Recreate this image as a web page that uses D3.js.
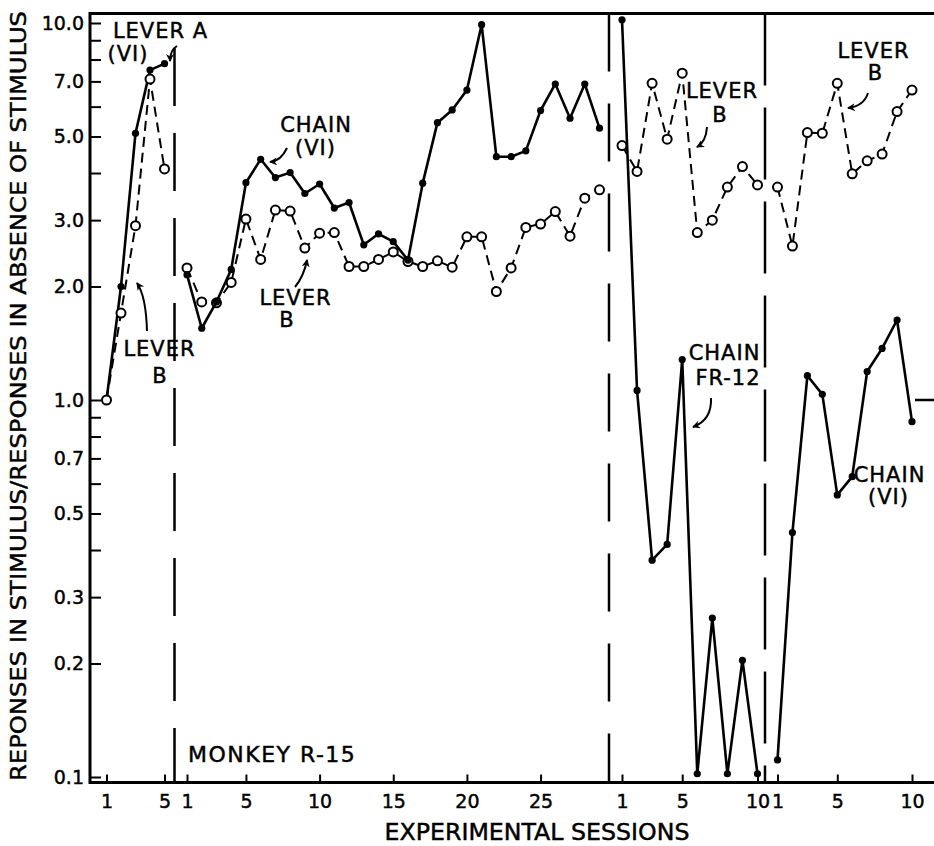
<!DOCTYPE html>
<html lang="en">
<head>
  <meta charset="UTF-8">
  <title>Monkey R-15</title>
  <script src="https://d3js.org/d3.v7.min.js"></script>
  <style>
    body { margin: 0; background: #fff; }
    text { font-family: "DejaVu Sans", sans-serif; fill: #000; stroke: #000; stroke-width: 0.45px; }
  </style>
</head>
<body>
  <div id="chart"></div>
  <script>
    // ratios, one value per session
    // phase 1 (sessions 1-5)
    const leverA1 = [1.0, 2.0, 5.1, 7.5, 7.8];
    const leverB1 = [1.0, 1.7, 2.9, 7.1, 4.1];
    // phase 2 (sessions 1-29)
    const chainVI2 = [2.15, 1.55, 1.82, 2.22, 3.77, 4.35, 3.89, 4.01, 3.53, 3.74,
                      3.23, 3.34, 2.58, 2.76, 2.63, 2.35, 3.76, 5.44, 5.88, 6.64,
                      9.9, 4.42, 4.42, 4.58, 5.86, 6.89, 5.59, 6.89, 5.26];
    const leverB2 = [2.24, 1.82, 1.81, 2.05, 3.02, 2.36, 3.19, 3.17, 2.53, 2.77,
                     2.78, 2.26, 2.26, 2.36, 2.47, 2.33, 2.26, 2.34, 2.25, 2.71,
                     2.71, 1.94, 2.24, 2.87, 2.93, 3.16, 2.72, 3.43, 3.61];
    // phase 3 (sessions 1-10)
    const chainFR3 = [10.2, 1.06, 0.376, 0.414, 1.28, 0.102, 0.264, 0.102, 0.204, 0.102];
    const leverB3 = [4.73, 4.04, 6.92, 4.92, 7.36, 2.78, 3.0, 3.67, 4.16, 3.72];
    // phase 4 (sessions 1-10)
    const chainVI4 = [0.111, 0.445, 1.16, 1.035, 0.56, 0.626, 1.19, 1.37, 1.63, 0.876];
    const leverB4 = [3.67, 2.56, 5.12, 5.10, 6.92, 3.98, 4.31, 4.49, 5.82, 6.64];

    const yMajor = [0.1, 0.2, 0.3, 0.5, 0.7, 1, 2, 3, 5, 7, 10];
    const yMinor = [0.4, 0.6, 0.8, 0.9, 4, 6, 8, 9];
    const ticks1 = [1, 5], ticks2 = [1, 5, 10, 15, 20, 25], ticks3 = [1, 5, 10], ticks4 = [1, 5, 10];

    const width = 934, height = 846;
    const frameLeft = 90, frameTop = 13.5, frameBottom = 782.5;

    const svg = d3.select("#chart")
      .append("svg")
      .attr("width", width)
      .attr("height", height);

    const y = d3.scaleLog().domain([0.1, 10]).range([777, 23]);

    // one x scale per experimental phase
    const x1 = d3.scaleLinear().domain([1, 5]).range([106.5, 164.5]);
    const x2 = d3.scaleLinear().domain([1, 29]).range([187, 599.5]);
    const x3 = d3.scaleLinear().domain([1, 10]).range([622, 757.5]);
    const x4 = d3.scaleLinear().domain([1, 10]).range([777.5, 912]);

    // arrow head
    svg.append("defs").append("marker")
      .attr("id", "head")
      .attr("markerUnits", "userSpaceOnUse")
      .attr("markerWidth", 10).attr("markerHeight", 10)
      .attr("refX", 7).attr("refY", 4)
      .attr("orient", "auto")
      .append("path")
      .attr("d", "M0,0 L8,4 L0,8 L2.5,4 Z")
      .attr("fill", "#000");

    // frame
    svg.append("line")
      .attr("x1", frameLeft).attr("x2", width).attr("y1", frameTop).attr("y2", frameTop)
      .attr("stroke", "#000").attr("stroke-width", 3);
    svg.append("line")
      .attr("x1", frameLeft).attr("x2", frameLeft).attr("y1", frameTop - 1.5).attr("y2", frameBottom + 1.5)
      .attr("stroke", "#000").attr("stroke-width", 3);
    svg.append("line")
      .attr("x1", frameLeft).attr("x2", width).attr("y1", frameBottom).attr("y2", frameBottom)
      .attr("stroke", "#000").attr("stroke-width", 3);

    // y axis, ticks pointing in
    const yAxis = d3.axisLeft(y)
      .tickValues(yMajor.concat(yMinor))
      .tickSizeInner(-11)
      .tickSizeOuter(0)
      .tickPadding(6)
      .tickFormat(d => yMajor.includes(d) ? d3.format(".1f")(d) : "");

    const gy = svg.append("g")
      .attr("transform", `translate(${frameLeft},0)`)
      .call(yAxis);
    gy.select(".domain").remove();
    gy.selectAll("line").attr("stroke-width", 2);
    gy.selectAll("text")
      .attr("font-family", "DejaVu Sans")
      .attr("font-size", 19);

    // right-hand tick at 1.0
    svg.append("line")
      .attr("x1", 915).attr("x2", width).attr("y1", y(1)).attr("y2", y(1))
      .attr("stroke", "#000").attr("stroke-width", 2.5);

    // x axes, one per phase
    [[x1, ticks1], [x2, ticks2], [x3, ticks3], [x4, ticks4]].forEach(([sc, tv]) => {
      const g = svg.append("g")
        .attr("transform", `translate(0,${frameBottom})`)
        .call(d3.axisBottom(sc)
          .tickValues(tv)
          .tickFormat(d3.format("d"))
          .tickSizeInner(-8)
          .tickSizeOuter(0)
          .tickPadding(12));
      g.select(".domain").remove();
      g.selectAll("line").attr("stroke-width", 2);
      g.selectAll("text")
        .attr("font-family", "DejaVu Sans")
        .attr("font-size", 19);
    });

    // phase dividers (the first one starts below the LEVER A label)
    [[174.5, 48, "58,27"], [609, frameTop, "58,32"], [765, frameTop, "72,22"]].forEach(([xd, y0, dash]) => {
      svg.append("line")
        .attr("x1", xd).attr("x2", xd)
        .attr("y1", y0).attr("y2", frameBottom)
        .attr("stroke", "#000")
        .attr("stroke-width", 2.5)
        .attr("stroke-dasharray", dash);
    });

    // series
    function drawSeries(sc, values, open) {
      const pts = values.map((v, i) => [sc(i + 1), y(v)]);
      svg.append("path")
        .attr("d", d3.line()(pts))
        .attr("fill", "none")
        .attr("stroke", "#000")
        .attr("stroke-width", open ? 2 : 2.6)
        .attr("stroke-dasharray", open ? "10,6" : null)
        .attr("stroke-linejoin", "round");
      svg.append("g").selectAll("circle")
        .data(pts)
        .join("circle")
        .attr("cx", d => d[0])
        .attr("cy", d => d[1])
        .attr("r", open ? 4.5 : 3.6)
        .attr("fill", open ? "#fff" : "#000")
        .attr("stroke", "#000")
        .attr("stroke-width", open ? 2 : 0);
    }

    drawSeries(x1, leverA1, false);
    drawSeries(x1, leverB1, true);
    drawSeries(x2, leverB2, true);
    drawSeries(x2, chainVI2, false);
    drawSeries(x3, leverB3, true);
    drawSeries(x3, chainFR3, false);
    drawSeries(x4, leverB4, true);
    drawSeries(x4, chainVI4, false);

    // annotations
    const labels = [
      ["LEVER A", 160.5, 38], ["(VI)", 128, 61],
      ["LEVER", 159.5, 356], ["B", 160, 383],
      ["CHAIN", 316, 132], ["(VI)", 315.5, 155],
      ["LEVER", 295.5, 305], ["B", 287, 327],
      ["LEVER", 722, 98], ["B", 720, 122],
      ["LEVER", 873.5, 58], ["B", 875.5, 80],
      ["CHAIN", 724.5, 360], ["FR-12", 728, 385],
      ["CHAIN", 889.5, 482], ["(VI)", 888.5, 504]
    ];
    svg.append("g").selectAll("text")
      .data(labels)
      .join("text")
      .attr("x", d => d[1])
      .attr("y", d => d[2])
      .attr("text-anchor", "middle")
      .attr("font-size", 21)
      .attr("letter-spacing", 1)
      .text(d => d[0]);

    const arrows = [
      "M177,46 Q170,50 170,61",
      "M147,331 Q146,296 137,283",
      "M287,148 Q281,161 270,162",
      "M295,287 Q304,276 307,260",
      "M707,127 Q706,142 697,147",
      "M868,93 Q864,106 848,108",
      "M711,398 Q712,420 693,427"
    ];
    svg.append("g").selectAll("path")
      .data(arrows)
      .join("path")
      .attr("d", d => d)
      .attr("fill", "none")
      .attr("stroke", "#000")
      .attr("stroke-width", 2)
      .attr("marker-end", "url(#head)");

    svg.append("text")
      .attr("x", 188).attr("y", 762)
      .attr("font-size", 22)
      .attr("letter-spacing", 1.5)
      .text("MONKEY R-15");

    // axis titles
    svg.append("text")
      .attr("x", 537).attr("y", 840)
      .attr("text-anchor", "middle")
      .attr("font-size", 23)
      .attr("textLength", 305)
      .attr("lengthAdjust", "spacingAndGlyphs")
      .text("EXPERIMENTAL SESSIONS");

    svg.append("text")
      .attr("transform", "translate(26,396) rotate(-90)")
      .attr("text-anchor", "middle")
      .attr("font-size", 22)
      .attr("textLength", 770)
      .attr("lengthAdjust", "spacingAndGlyphs")
      .text("REPONSES IN STIMULUS/RESPONSES IN ABSENCE OF STIMULUS");
  </script>
</body>
</html>
